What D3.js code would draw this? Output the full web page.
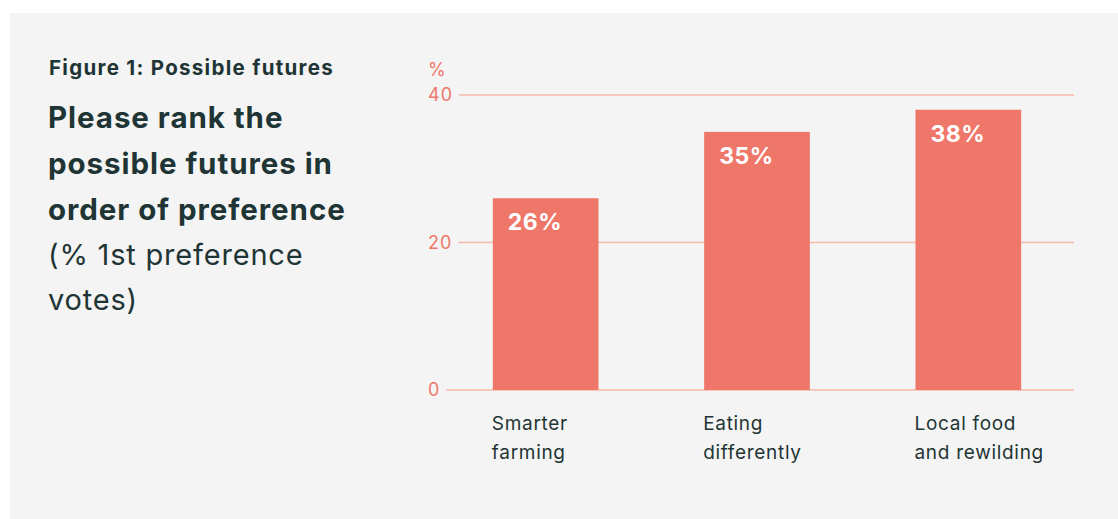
<!DOCTYPE html>
<html><head><meta charset="utf-8">
<script src="https://cdn.jsdelivr.net/npm/d3@7"></script>
<style>
html,body{margin:0;padding:0;background:#fff;}
svg{display:block;}
</style></head>
<body><svg id="chart" width="1118" height="519"></svg>
<script>
const categories = [["Smarter","farming"],["Eating","differently"],["Local food","and rewilding"]];
const values = [26, 35, 38];
const yTicks = [0, 20, 40];
const figureLabel = "Figure 1: Possible futures";
const titleLines = ["Please rank the","possible futures in","order of preference"];
const subtitleLines = ["(% 1st preference","votes)"];
const unitLabel = "%";

const svg = d3.select("#chart");
const font = "Inter, 'Noto Sans', sans-serif";
const dark = "#1f3535";
const coral = "#ef776a";
const grid = "#f7b8ab";

svg.append("rect").attr("x",10).attr("y",13).attr("width",1108).attr("height",506).attr("fill","#f3f4f3");

svg.append("text").attr("x",49).attr("y",75).attr("font-family",font).attr("font-weight",700)
  .attr("font-size",20.5).attr("letter-spacing",1.3).attr("fill",dark).text(figureLabel);

titleLines.forEach((t,i)=>{
  svg.append("text").attr("x",48).attr("y",128+i*46).attr("font-family",font).attr("font-weight",700)
    .attr("font-size",29.5).attr("letter-spacing",0.95).attr("fill",dark).text(t);
});
subtitleLines.forEach((t,i)=>{
  svg.append("text").attr("x",48).attr("y",128+(i+3)*45.5).attr("font-family",font).attr("font-weight",400)
    .attr("font-size",29).attr("letter-spacing",0.8).attr("fill",dark).text(t);
});

const x = d3.scaleBand().domain(d3.range(categories.length)).range([440,1074]).paddingInner(0.5).paddingOuter(0.25);
const y = d3.scaleLinear().domain([0,40]).range([390,95]);

// gridlines + tick labels
const tickG = svg.append("g");
yTicks.forEach(v=>{
  const lbl = tickG.append("text").attr("x",428).attr("y",y(v)).attr("dy","0.36em")
    .attr("font-family",font).attr("font-size",18).attr("letter-spacing",1).attr("fill",coral).text(v);
  const w = lbl.node().getComputedTextLength();
  tickG.append("line").attr("x1",428+w+6).attr("x2",1074).attr("y1",y(v)).attr("y2",y(v))
    .attr("stroke",grid).attr("stroke-width",1.3);
});
svg.append("text").attr("x",428).attr("y",y(40)-19).attr("font-family",font).attr("font-size",18)
  .attr("fill",coral).text(unitLabel);

// bars
svg.append("g").selectAll("rect").data(values).join("rect")
  .attr("x",(d,i)=>x(i)).attr("y",d=>y(d)).attr("width",x.bandwidth()).attr("height",d=>y(0)-y(d))
  .attr("fill",coral);

svg.append("g").selectAll("text").data(values).join("text")
  .attr("x",(d,i)=>x(i)+15).attr("y",d=>y(d)+32)
  .attr("font-family",font).attr("font-weight",700).attr("font-size",23).attr("letter-spacing",0.5).attr("fill","#fff")
  .text(d=>d+"%");

// category labels
const cg = svg.append("g");
categories.forEach((lines,i)=>{
  lines.forEach((t,j)=>{
    cg.append("text").attr("x",x(i)-1).attr("y",430+j*29).attr("font-family",font)
      .attr("font-size",19).attr("letter-spacing",0.7).attr("fill",dark).text(t);
  });
});
</script></body></html>
